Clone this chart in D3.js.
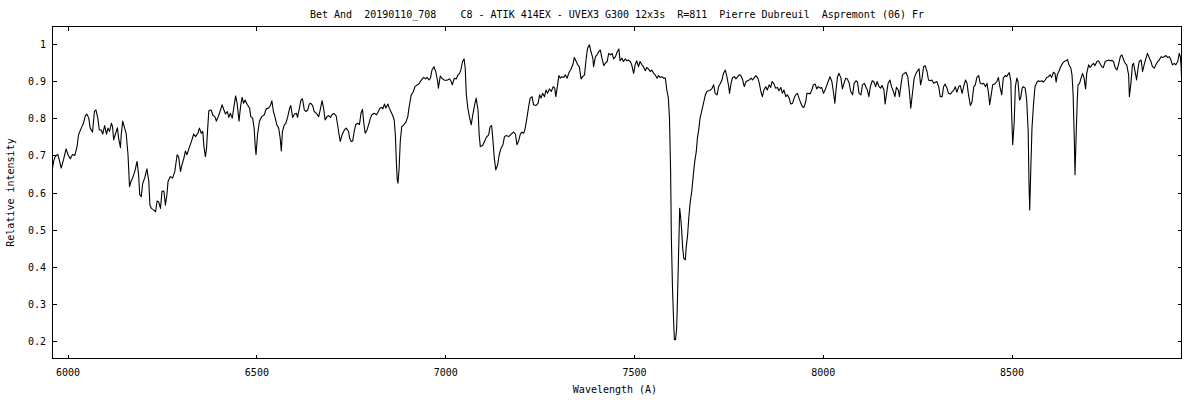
<!DOCTYPE html>
<html>
<head>
<meta charset="utf-8">
<script src="https://cdn.jsdelivr.net/npm/d3@7"></script>
<style>
  html, body { margin: 0; padding: 0; background: #fff; }
  svg { display: block; }
  text { font-family: "DejaVu Sans Mono", "Liberation Mono", monospace; font-size: 10px; fill: #000; white-space: pre; }
</style>
</head>
<body>
<svg id="chart" width="1200" height="400"></svg>
<script>
// ---------- DATA ----------
const titleText = "Bet And  20190110_708    C8 - ATIK 414EX - UVEX3 G300 12x3s  R=811  Pierre Dubreuil  Aspremont (06) Fr";
const xLabel = "Wavelength (A)";
const yLabel = "Relative intensity";
const xTicks = [6000, 6500, 7000, 7500, 8000, 8500];
const yTicks = [0.2, 0.3, 0.4, 0.5, 0.6, 0.7, 0.8, 0.9, 1];
const yTickLabels = ["0.2", "0.3", "0.4", "0.5", "0.6", "0.7", "0.8", "0.9", "1"];
const xRange = [5960, 8950];
const yRange = [0.1514, 1.0486];

// spectrum: [wavelength (A), relative intensity]
const spectrumRed = [
[5960,0.666],[5963,0.684],[5967,0.697],[5974,0.703],[5978,0.688],[5983,0.666],[5989,0.688],[5996,0.718],[6001,0.702],[6007,0.691],
[6013,0.703],[6019,0.700],[6025,0.724],[6029,0.756],[6036,0.774],[6042,0.787],[6047,0.808],[6051,0.812],[6056,0.801],[6060,0.774],
[6066,0.763],[6071,0.819],[6075,0.823],[6080,0.801],[6084,0.769],[6089,0.769],[6093,0.758],[6098,0.781],[6103,0.758],[6107,0.774],
[6111,0.765],[6116,0.787],[6119,0.778],[6122,0.742],[6126,0.756],[6132,0.775],[6135,0.747],[6140,0.721],[6142,0.756],[6146,0.793],
[6150,0.778],[6155,0.760],[6160,0.702],[6164,0.616],[6168,0.630],[6172,0.639],[6178,0.657],[6184,0.684],[6188,0.648],[6191,0.594],
[6195,0.589],[6199,0.625],[6204,0.639],[6210,0.664],[6215,0.630],[6218,0.566],[6222,0.557],[6228,0.553],[6233,0.548],[6237,0.577],
[6241,0.575],[6246,0.557],[6250,0.603],[6255,0.604],[6259,0.566],[6263,0.594],[6266,0.630],[6272,0.643],[6278,0.639],[6284,0.657],
[6290,0.702],[6294,0.697],[6299,0.657],[6303,0.675],[6308,0.693],[6312,0.712],[6316,0.702],[6323,0.724],[6328,0.738],[6334,0.758],
[6339,0.751],[6345,0.760],[6349,0.774],[6354,0.760],[6358,0.765],[6361,0.724],[6365,0.697],[6368,0.720],[6371,0.774],[6374,0.821],
[6380,0.823],[6385,0.808],[6390,0.805],[6394,0.793],[6399,0.805],[6405,0.823],[6409,0.837],[6414,0.823],[6418,0.812],[6423,0.819],
[6427,0.803],[6431,0.814],[6436,0.801],[6440,0.828],[6445,0.861],[6449,0.841],[6454,0.793],[6458,0.832],[6462,0.857],
[6466,0.841],[6470,0.850],[6476,0.837],[6482,0.828],[6485,0.805],[6490,0.801],[6494,0.774],[6497,0.724],[6499,0.702],[6503,0.756],
[6508,0.792],[6514,0.805],[6521,0.810],[6526,0.826],[6532,0.828],[6537,0.835],[6541,0.848],[6545,0.819],[6550,0.801],[6554,0.783],
[6559,0.774],[6563,0.747],[6566,0.712],[6569,0.765],[6574,0.783],[6578,0.787],[6583,0.805],[6588,0.828],[6591,0.835],[6596,0.803],
[6601,0.812],[6606,0.814],[6609,0.803],[6613,0.823],[6618,0.850],[6622,0.853],[6627,0.823],[6631,0.819],[6636,0.823],[6640,0.839],
[6644,0.841],[6649,0.835],[6653,0.819],[6659,0.814],[6665,0.805],[6669,0.823],[6674,0.848],[6678,0.828],[6682,0.796],[6687,0.805],
[6691,0.808],[6696,0.803],[6700,0.810],[6705,0.814],[6711,0.808],[6715,0.783],[6719,0.756],[6722,0.738],[6727,0.756],[6733,0.769],
[6738,0.774],[6744,0.765],[6747,0.747],[6751,0.738],[6755,0.739],[6759,0.765],[6763,0.783],[6768,0.787],[6773,0.784],[6777,0.814],
[6781,0.825],[6784,0.792],[6788,0.760],[6793,0.769],[6797,0.783],[6802,0.801],[6806,0.810],[6812,0.814],[6818,0.810],[6823,0.819],
[6827,0.828],[6832,0.830],[6835,0.826],[6839,0.839],[6843,0.828],[6848,0.839],[6852,0.828],[6857,0.817],[6861,0.808],[6865,0.796],
[6868,0.756],[6871,0.675],[6873,0.634],[6875,0.625],[6878,0.666],[6881,0.738],[6885,0.778],[6890,0.783],[6896,0.790],[6901,0.805],
[6904,0.828],[6910,0.864],[6915,0.871],[6920,0.886],[6926,0.891],[6930,0.893],[6934,0.900],[6939,0.907],[6943,0.911],[6948,0.907],
[6952,0.911],[6957,0.904],[6961,0.909]
];

const spectrumMid = [
[6965,0.931],[6970,0.940],[6975,0.927],[6980,0.900],[6982,0.882],[6987,0.915],[6991,0.909],[6997,0.904],[7004,0.903],[7011,0.907],
[7015,0.902],[7019,0.891],[7024,0.909],[7029,0.907],[7034,0.918],[7038,0.922],[7041,0.929],[7046,0.954],[7050,0.961],[7053,0.936],
[7056,0.864],[7060,0.828],[7064,0.805],[7069,0.783],[7073,0.810],[7078,0.837],[7082,0.855],[7087,0.823],[7090,0.756],[7093,0.724],
[7099,0.727],[7104,0.738],[7109,0.749],[7115,0.756],[7119,0.778],[7123,0.781],[7126,0.747],[7130,0.693],[7134,0.661],[7139,0.675],
[7143,0.702],[7148,0.720],[7153,0.729],[7157,0.751],[7162,0.754],[7168,0.751],[7175,0.758],[7181,0.763],[7186,0.758],[7190,0.729],
[7194,0.738],[7199,0.758],[7203,0.763],[7208,0.760],[7212,0.774],[7217,0.805],[7221,0.832],[7225,0.855],[7230,0.859],[7234,0.837],
[7240,0.835],[7246,0.841],[7250,0.864],[7254,0.855],[7258,0.868],[7263,0.859],[7267,0.877],[7271,0.868],[7276,0.880],[7281,0.873],
[7286,0.886],[7290,0.882],[7293,0.859],[7297,0.886],[7301,0.916],[7305,0.909],[7309,0.913],[7314,0.911],[7318,0.918],[7323,0.909],
[7327,0.922],[7333,0.934],[7338,0.945],[7342,0.965],[7347,0.954],[7351,0.945],[7355,0.940],[7360,0.907],[7364,0.913],[7369,0.918],
[7373,0.958],[7377,0.990],[7382,0.999],[7386,0.981],[7391,0.963],[7393,0.940],[7398,0.967],[7402,0.972],[7407,0.981],[7411,0.985],
[7415,0.963],[7420,0.943],[7424,0.949],[7429,0.954],[7433,0.976],[7438,0.972],[7442,0.976],[7446,0.961],[7451,0.967],[7455,0.979],
[7460,0.988],
[7463,0.956],[7468,0.963],[7472,0.954],[7477,0.961],[7481,0.956],[7485,0.958],[7490,0.954],[7494,0.945],[7499,0.922],[7503,0.945],
[7507,0.956],[7512,0.940],[7516,0.954],[7521,0.945],[7525,0.940],[7530,0.929],[7534,0.938],[7538,0.934],[7543,0.927],[7547,0.931],
[7552,0.922],[7556,0.918],[7561,0.909],[7565,0.916],[7569,0.911],[7574,0.913],[7578,0.909],[7583,0.909],[7587,0.877],[7591,0.855],
[7594,0.801],[7597,0.657],[7599,0.476],[7602,0.341],[7605,0.251],[7607,0.202],[7610,0.202],[7613,0.233],[7615,0.305],[7618,0.431],
[7621,0.557],[7623,0.539],[7626,0.503],[7629,0.449],[7632,0.422],[7636,0.418],[7638,0.449],[7642,0.485],[7645,0.530],[7649,0.575],
[7653,0.603],[7658,0.657],[7661,0.684],[7665,0.711],[7668,0.747],[7672,0.774],[7675,0.801],[7680,0.823],[7684,0.841],[7689,0.864],
[7693,0.873],[7698,0.875],[7702,0.877],[7706,0.880],[7711,0.891],[7715,0.868],[7720,0.864],[7724,0.886],[7729,0.895],[7733,0.904],
[7737,0.922],[7742,0.931],[7746,0.913],[7751,0.886],[7753,0.868],[7757,0.895],[7761,0.911],[7766,0.913],[7770,0.907],[7775,0.913],
[7779,0.918],[7783,0.916],[7788,0.904],[7792,0.886],[7797,0.900],[7801,0.902],[7805,0.904],[7810,0.909],[7814,0.904],[7819,0.911],
[7823,0.916],[7828,0.909],[7832,0.895],[7836,0.873],[7840,0.859],[7844,0.877],[7849,0.886],[7853,0.877],[7858,0.891],[7862,0.884],
[7866,0.900],[7871,0.893],[7875,0.882],[7880,0.884],[7884,0.875],[7889,0.884],[7893,0.868],[7897,0.877],[7902,0.859],[7906,0.864],
[7911,0.855],[7915,0.839],[7920,0.841],[7924,0.855],[7928,0.864],[7933,0.868],[7937,0.855],[7942,0.841],[7946,0.832],[7950,0.830],
[7955,0.846],[7958,0.868]
];

const spectrumIR = [
[7962,0.868],[7966,0.866],[7971,0.877],[7975,0.891],[7980,0.893],[7984,0.880],[7988,0.886],[7993,0.882],[7997,0.884],[8002,0.868],
[8006,0.877],[8011,0.891],[8015,0.902],[8019,0.913],[8024,0.900],[8028,0.873],[8032,0.841],[8035,0.877],[8039,0.913],[8043,0.922],
[8048,0.909],[8052,0.880],[8057,0.898],[8061,0.909],[8065,0.907],[8070,0.895],[8074,0.873],[8079,0.864],[8083,0.895],[8088,0.902],
[8092,0.898],[8096,0.868],[8101,0.864],[8105,0.891],[8110,0.895],[8114,0.886],[8118,0.877],[8122,0.859],[8126,0.886],[8131,0.902],
[8135,0.900],[8140,0.886],[8144,0.900],[8149,0.886],[8153,0.882],[8157,0.889],[8162,0.877],[8165,0.839],[8169,0.868],[8173,0.895],
[8178,0.904],[8182,0.886],[8187,0.873],[8191,0.859],[8195,0.884],[8200,0.877],[8203,0.859],[8207,0.891],[8211,0.918],[8216,0.922],
[8220,0.925],[8225,0.913],[8229,0.877],[8233,0.828],[8238,0.873],[8242,0.909],[8247,0.922],[8251,0.929],[8255,0.934],[8259,0.891],
[8263,0.909],[8267,0.940],[8271,0.943],[8276,0.927],[8280,0.904],[8285,0.902],[8289,0.904],[8294,0.895],[8298,0.898],[8302,0.900],
[8307,0.886],[8311,0.859],[8316,0.859],[8320,0.886],[8324,0.893],[8329,0.882],[8333,0.868],[8338,0.866],[8342,0.871],[8347,0.877],
[8351,0.886],[8355,0.871],[8360,0.886],[8364,0.889],[8369,0.868],[8373,0.886],[8378,0.904],[8382,0.895],[8386,0.864],[8391,0.835],
[8395,0.844],[8400,0.886],[8404,0.891],[8408,0.911],[8413,0.916],[8417,0.895],[8422,0.893],[8426,0.895],[8431,0.886],[8435,0.895],
[8439,0.868],[8442,0.837],[8446,0.864],[8450,0.891],[8455,0.893],
[8461,0.900],[8465,0.911],[8469,0.886],[8474,0.864],[8478,0.909],[8483,0.916],[8487,0.913],[8491,0.920],[8494,0.924],[8498,0.900],
[8500,0.819],[8503,0.729],[8507,0.792],[8510,0.886],[8514,0.909],[8517,0.900],[8521,0.850],[8524,0.855],[8528,0.882],[8531,0.886],
[8536,0.882],[8540,0.850],[8544,0.765],[8546,0.630],[8548,0.553],[8551,0.666],[8554,0.774],[8558,0.837],[8562,0.886],[8567,0.898],
[8571,0.902],[8575,0.900],[8580,0.902],[8584,0.898],[8589,0.904],[8593,0.911],[8598,0.913],[8602,0.918],[8606,0.911],[8611,0.925],
[8615,0.922],[8618,0.898],[8621,0.918],[8626,0.929],[8630,0.940],[8635,0.949],[8639,0.954],[8644,0.956],[8648,0.959],[8652,0.945],
[8657,0.936],[8660,0.918],[8663,0.864],[8666,0.747],[8668,0.648],[8671,0.756],[8674,0.850],[8676,0.891],[8680,0.895],[8684,0.909],
[8688,0.922],[8692,0.909],[8696,0.880],[8699,0.922],[8704,0.945],[8708,0.938],[8713,0.945],[8717,0.949],[8721,0.943],[8726,0.954],
[8730,0.956],[8735,0.947],[8739,0.940],[8743,0.938],[8748,0.954],[8752,0.956],[8757,0.958],[8761,0.956],[8766,0.957],[8770,0.954],
[8774,0.938],[8779,0.931],[8783,0.945],[8788,0.967],[8792,0.972],[8797,0.958],[8801,0.949],[8805,0.945],[8810,0.918],[8812,0.859],
[8816,0.895],[8820,0.945],[8823,0.949],[8828,0.922],[8831,0.904],[8835,0.936],[8838,0.954],[8843,0.958],[8847,0.927],[8851,0.945],
[8856,0.963],[8860,0.976],[8865,0.963],[8869,0.954],[8873,0.940],[8878,0.936],[8882,0.945],[8887,0.954],[8891,0.958],[8896,0.967],
[8900,0.965],[8904,0.967],[8909,0.970],[8913,0.965],[8918,0.967],[8922,0.958],[8926,0.945],[8931,0.949],[8935,0.945],[8940,0.954],
[8944,0.976],[8947,0.967],[8949,0.940],[8950,0.913]
];

// ---------- DRAW ----------
const spectrum = spectrumRed.concat(spectrumMid, spectrumIR);
const svg = d3.select("#chart");
const W = 1200, H = 400;
const L = 52.5, R = 1181.5, T = 26.5, B = 358.5;

const x = d3.scaleLinear().domain(xRange).range([L, R]);
const y = d3.scaleLinear().domain(yRange).range([B, T]);

svg.append("rect").attr("width", W).attr("height", H).attr("fill", "#fff");

svg.append("defs").append("clipPath").attr("id", "plotclip")
  .append("rect").attr("x", L).attr("y", T).attr("width", R - L).attr("height", B - T);

// axes with inward ticks
const gx = svg.append("g").attr("transform", `translate(0,${B})`)
  .call(d3.axisBottom(x).tickValues(xTicks).tickSize(-4).tickFormat(d3.format("d")));
const gxt = svg.append("g").attr("transform", `translate(0,${T})`)
  .call(d3.axisTop(x).tickValues(xTicks).tickSize(-4).tickFormat(""));
const gy = svg.append("g").attr("transform", `translate(${L},0)`)
  .call(d3.axisLeft(y).tickValues(yTicks).tickSize(-4).tickFormat((d, i) => yTickLabels[i]));
const gyr = svg.append("g").attr("transform", `translate(${R},0)`)
  .call(d3.axisRight(y).tickValues(yTicks).tickSize(-4).tickFormat(""));

[gx, gxt, gy, gyr].forEach(g => {
  g.select(".domain").remove();
  g.selectAll(".tick line").attr("stroke", "#000").attr("shape-rendering", "crispEdges");
  g.attr("font-family", null).attr("font-size", null);
});
gx.selectAll(".tick text").attr("y", 17.5).attr("dy", null).attr("fill", "#000");
gy.selectAll(".tick text").attr("x", -6.5).attr("dy", "0.35em").attr("fill", "#000");

// spectrum line
svg.append("path")
  .datum(spectrum)
  .attr("clip-path", "url(#plotclip)")
  .attr("fill", "none")
  .attr("stroke", "#000")
  .attr("stroke-width", 1.1)
  .attr("stroke-linejoin", "round")
  .attr("d", d3.line().x(d => x(d[0])).y(d => y(d[1])));

// border
svg.append("rect")
  .attr("x", L).attr("y", T).attr("width", R - L).attr("height", B - T)
  .attr("fill", "none").attr("stroke", "#000").attr("stroke-width", 1)
  .attr("shape-rendering", "crispEdges");

// titles
svg.append("text").attr("x", (L + R) / 2).attr("y", 18).attr("text-anchor", "middle")
  .attr("xml:space", "preserve").text(titleText);
svg.append("text").attr("x", 615).attr("y", 393).attr("text-anchor", "middle").text(xLabel);
svg.append("text").attr("transform", `translate(14,${(T + B) / 2}) rotate(-90)`)
  .attr("text-anchor", "middle").text(yLabel);
</script>
</body>
</html>
